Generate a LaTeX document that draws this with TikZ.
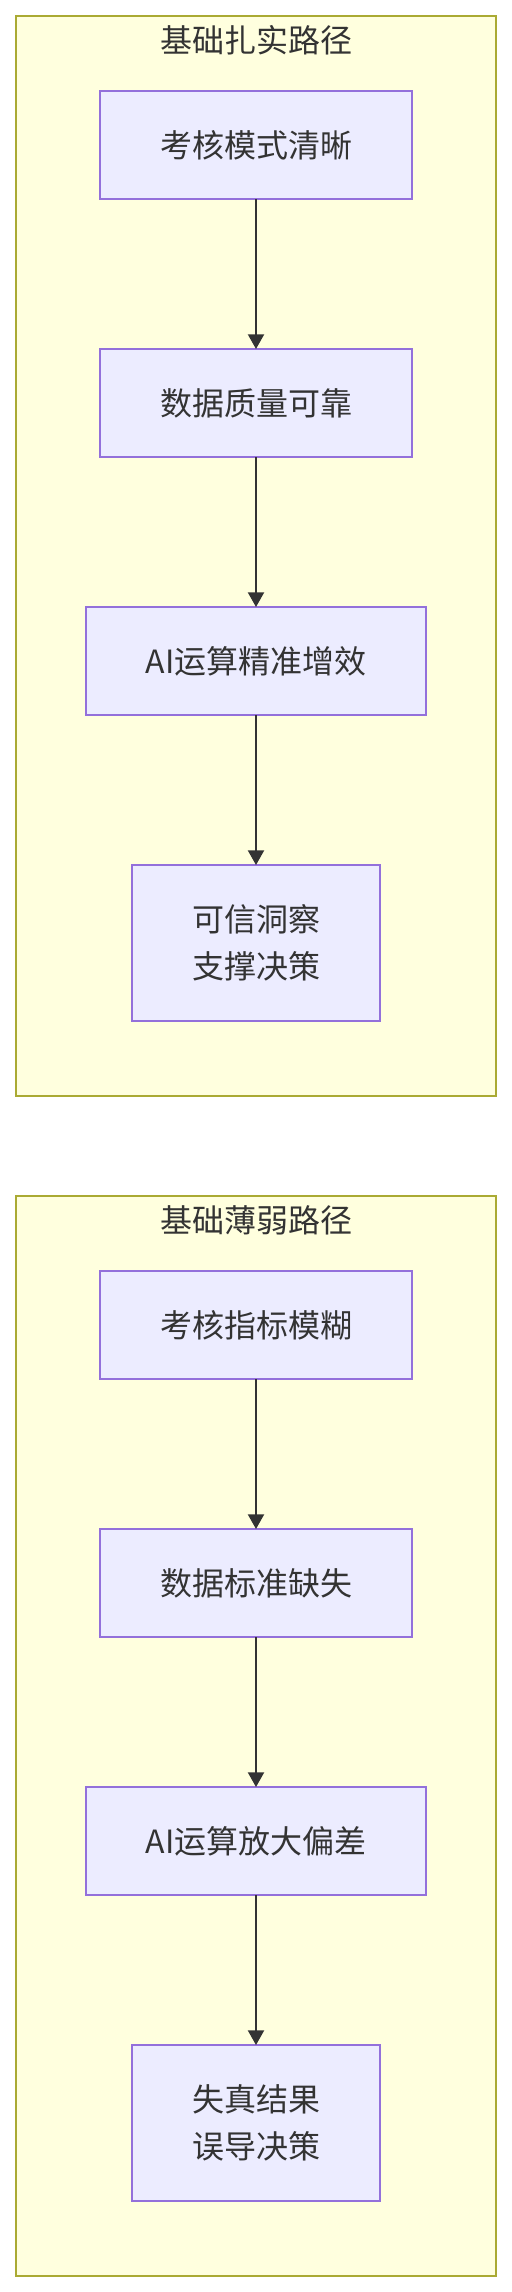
\documentclass[tikz,border=0pt]{standalone}
\usepackage{fontspec}
\setmainfont{Noto Sans CJK SC}
\usetikzlibrary{arrows.meta}
\definecolor{clfill}{HTML}{FFFFDE}
\definecolor{clline}{HTML}{AAAA33}
\definecolor{ndfill}{HTML}{ECECFF}
\definecolor{ndline}{HTML}{9370DB}
\definecolor{txt}{HTML}{333333}
\tikzset{
  cluster/.style={draw=clline, fill=clfill, line width=1.5pt, minimum width=360pt, minimum height=810pt, inner sep=0pt, outer sep=0pt},
  ctitle/.style={text=txt, font=\fontsize{24pt}{35pt}\selectfont, inner sep=0pt},
  stepbox/.style={draw=ndline, fill=ndfill, line width=1.5pt, text=txt, font=\fontsize{24pt}{35pt}\selectfont, align=center, inner sep=0pt, outer sep=0pt, minimum height=81pt},
  wbox/.style={stepbox, minimum width=234pt},
  xbox/.style={stepbox, minimum width=255pt},
  tbox/.style={stepbox, minimum width=186pt, minimum height=117pt},
  flow/.style={draw=txt, line width=1.5pt, -{Triangle[length=11pt,width=12pt]}, shorten >=0pt}
}
\begin{document}
\begin{tikzpicture}[x=0.75pt, y=-0.75pt]
\useasboundingbox (0,0) rectangle (511,2292);
% cluster 1
\node[cluster] (c1) at (256,556) {};
\node[ctitle] (t1) at (256,40) {基础扎实路径};
\node[wbox] (a1) at (256,145) {考核模式清晰};
\node[wbox] (a2) at (256,403) {数据质量可靠};
\node[xbox] (a3) at (256,661) {AI运算精准增效};
\node[tbox] (a4) at (256,943) {可信洞察\\支撑决策};
\draw[flow] (a1) -- (a2);
\draw[flow] (a2) -- (a3);
\draw[flow] (a3) -- (a4);
% cluster 2
\node[cluster] (c2) at (256,1736) {};
\node[ctitle] (t2) at (256,1220) {基础薄弱路径};
\node[wbox] (b1) at (256,1325) {考核指标模糊};
\node[wbox] (b2) at (256,1583) {数据标准缺失};
\node[xbox] (b3) at (256,1841) {AI运算放大偏差};
\node[tbox] (b4) at (256,2123) {失真结果\\误导决策};
\draw[flow] (b1) -- (b2);
\draw[flow] (b2) -- (b3);
\draw[flow] (b3) -- (b4);
\end{tikzpicture}
\end{document}
